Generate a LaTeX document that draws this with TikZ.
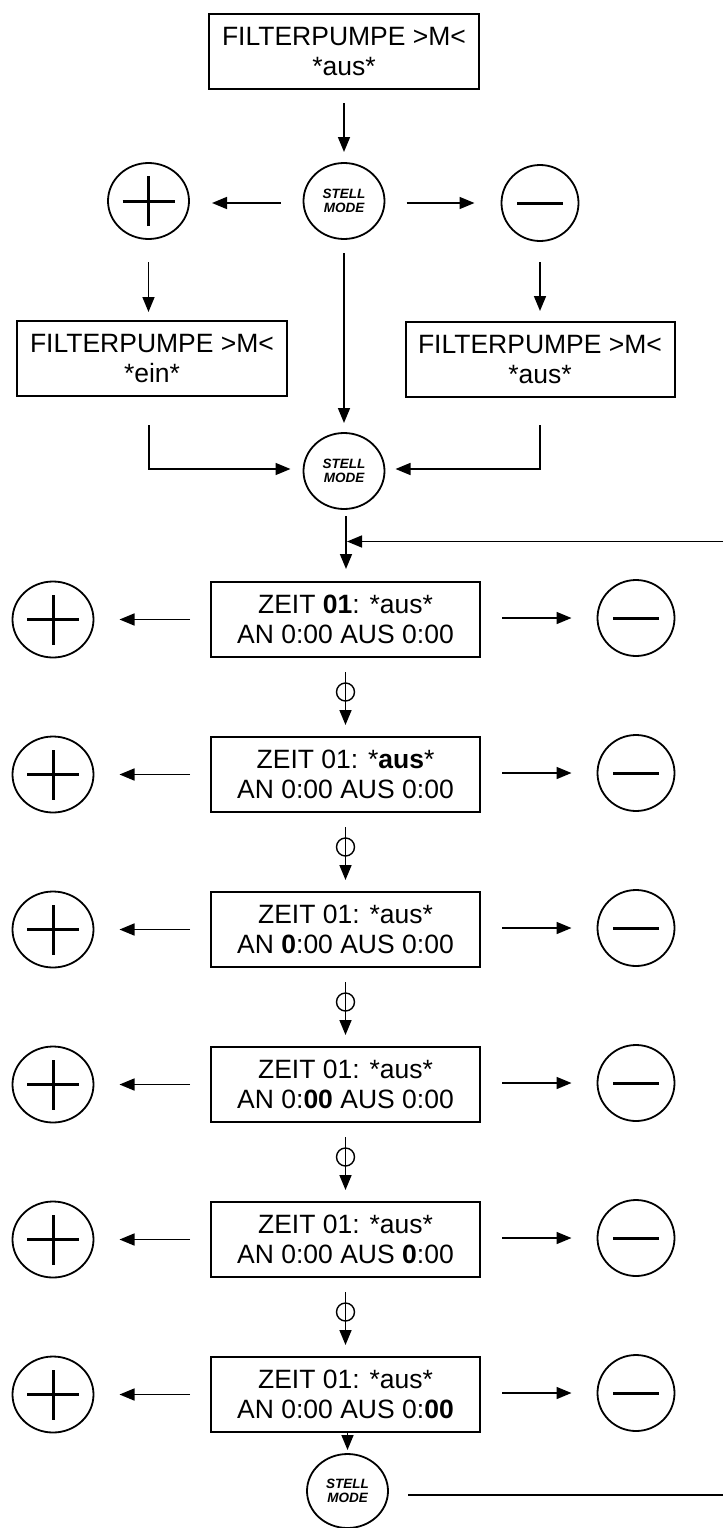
\documentclass[tikz,border=0pt]{standalone}
\usepackage{fontspec}
\setmainfont{Liberation Sans}
\usetikzlibrary{arrows.meta,shapes.geometric}
\begin{document}
\begin{tikzpicture}[x=1pt,y=-1pt,
  every node/.style={inner sep=0pt,outer sep=0pt},
  box/.style={draw,line width=2pt,minimum width=269pt,minimum height=75pt,align=center,font=\fontsize{26.5}{30}\selectfont},
  key/.style={draw,ellipse,line width=1.8pt,minimum width=81pt,minimum height=76pt},
  stell/.style={key,align=center,font=\fontsize{13.5}{14.5}\selectfont\bfseries\itshape},
  plus/.style={key,path picture={
     \draw[line width=3pt] ([xshift=-26pt]path picture bounding box.center) -- ([xshift=26pt]path picture bounding box.center);
     \draw[line width=3pt] ([yshift=-25pt]path picture bounding box.center) -- ([yshift=25pt]path picture bounding box.center);}},
  minus/.style={key,minimum width=77pt,path picture={
     \draw[line width=3pt] ([xshift=-23pt]path picture bounding box.center) -- ([xshift=23pt]path picture bounding box.center);}},
  phi/.style={draw,ellipse,line width=1.4pt,minimum width=18pt,minimum height=18pt},
  arr/.style={line width=1.6pt,-{Triangle[length=15pt,width=12pt]}},
  ln/.style={line width=1.6pt}]
\useasboundingbox (0,0) rectangle (723,1528);

% ---- top section ----
\node[box,minimum width=270pt] (top) at (344,51.5) {FILTERPUMPE >M<\\*aus*};
\node[stell] (s1) at (344,201) {STELL\\MODE};
\node[plus] (p0) at (148.5,201) {};
\node[minus] (m0) at (540,203) {};
\draw[arr] ([yshift=-14pt]top.south) -- ([yshift=11pt]s1.north);
\draw[arr] ([xshift=-23pt]s1.west |- m0) -- ([xshift=23pt]p0.east |- m0);
\draw[arr] ([xshift=22pt]s1.east |- m0) -- ([xshift=-27pt]m0.west);

\node[box,minimum width=270pt] (bl) at (152,358.5) {FILTERPUMPE >M<\\*ein*};
\node[box] (br) at (540,359.5) {FILTERPUMPE >M<\\*aus*};
\node[stell] (s2) at (344,471) {STELL\\MODE};

\draw[arr] ([yshift=-23pt]p0.south) -- ([yshift=9pt]bl.north -| p0);
\draw[arr] ([yshift=-21pt]m0.south) -- ([yshift=11pt]br.north -| m0);
\draw[arr] ([yshift=-14pt]s1.south) -- ([yshift=10pt]s2.north);

\coordinate (blc) at (149,469);
\coordinate (brc) at (540,469);
\draw[arr] ([yshift=-29pt]bl.south -| blc) -- (blc) -- ([xshift=-13pt]s2.west |- blc);
\draw[arr] ([yshift=-28pt]br.south -| brc) -- (brc) -- ([xshift=11pt]s2.east |- brc);

% ---- rows ----
\node[box] (z0) at (345.5,619.5)  {ZEIT \textbf{01}: *aus*\\AN 0:00 AUS 0:00};
\node[box] (z1) at (345.5,774.5)  {ZEIT 01: *\textbf{aus}*\\AN 0:00 AUS 0:00};
\node[box] (z2) at (345.5,929.5)  {ZEIT 01: *aus*\\AN \textbf{0}:00 AUS 0:00};
\node[box] (z3) at (345.5,1084.5) {ZEIT 01: *aus*\\AN 0:\textbf{00} AUS 0:00};
\node[box] (z4) at (345.5,1239.5) {ZEIT 01: *aus*\\AN 0:00 AUS \textbf{0}:00};
\node[box] (z5) at (345.5,1394.5) {ZEIT 01: *aus*\\AN 0:00 AUS 0:\textbf{00}};

\foreach \k in {0,...,5}{
  \node[plus] (pl\k) at (53,619.5+155*\k) {};
  \node[minus] (mi\k) at (636,618+155*\k) {};
  \draw[arr] ([xshift=-21pt]z\k.west) -- ([xshift=26pt]pl\k.east |- z\k.west);
  \draw[arr] ([xshift=22pt]z\k.east |- mi\k) -- ([xshift=-26pt]mi\k.west);
}

\foreach \k/\n in {0/1,1/2,2/3,3/4,4/5}{
  \node[phi] (f\k) at (345.5,692+155*\k) {};
  \draw[arr] ([yshift=-15pt]z\k.south) -- ([yshift=12pt]z\n.north);
}

% ---- entry and loop back ----
\coordinate (fbR) at (723,541.5);
\coordinate (fbJ) at (346,541.5);
\draw[arr] ([yshift=-7pt]s2.south -| fbJ) -- ([yshift=13pt]z0.north -| fbJ);
\draw[arr] (fbR) -- ([xshift=1pt]fbJ);

\node[stell,minimum height=74pt] (s3) at (347.5,1491) {STELL\\MODE};
\draw[arr] (z5.south -| s3) -- ([yshift=4pt]s3.north);
\coordinate (btR) at (723,1495);
\draw[ln] ([xshift=20pt]s3.east |- btR) -- (btR);
\end{tikzpicture}
\end{document}
